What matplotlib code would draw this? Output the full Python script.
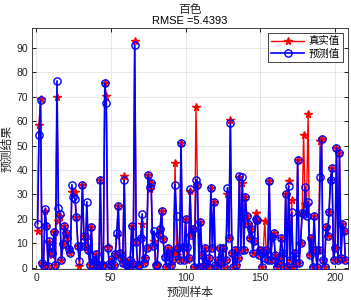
import matplotlib
matplotlib.use("Agg")
import matplotlib.pyplot as plt
import numpy as np

title_name = "百色"
rmse_text = "RMSE =5.4393"
legend_labels = ["真实值", "预测值"]
xlabel_text = "预测样本"
ylabel_text = "预测结果"
xticks = [0, 50, 100, 150, 200]
yticks = [0, 10, 20, 30, 40, 50, 60, 70, 80, 90]

true_vals = [
    15, 58.5, 69, 2, 0.5, 23, 17, 0.5, 10.5, 6.5,
    5, 14.5, 1, 70, 19, 21, 3, 9.5, 17, 14,
    12, 7.5, 6, 31, 31, 31, 20.6, 9, 0.5, 9,
    34, 13, 9, 13, 7, 1, 16.5, 1, 2.5, 5.5,
    1, 1, 36, 0.5, 1, 75.5, 70.5, 8.5, 1.5, 1,
    3.6, 1, 5.6, 13, 25.4, 6, 4, 2, 37.5, 1.5,
    1, 0.3, 3, 17, 1.5, 92.8, 11, 1, 1, 12,
    18, 2, 4, 8, 38, 32, 34.5, 9, 11, 1,
    1, 13.8, 16, 23.2, 11.5, 4.5, 0.3, 8, 6, 1,
    3, 6, 43, 5, 8, 3, 51, 8.5, 3, 20,
    3, 4, 31.4, 13.3, 16, 0.3, 66, 34, 0.3, 18.7,
    5, 0.5, 8, 2, 0.3, 4, 32.8, 8, 27, 1,
    0.3, 3, 8, 2, 8, 0.3, 3, 30, 12, 60.6,
    6, 0.3, 7, 1, 4, 37, 7, 34.6, 7, 29,
    21, 18, 12, 16, 6, 11, 22.2, 19.4, 5, 7,
    0.3, 6.5, 19, 7, 3, 35.4, 3, 12.5, 14, 5,
    0.3, 2, 4.5, 12, 6, 0.3, 30.2, 0.3, 35.4, 3,
    27.6, 0.3, 6, 2, 44, 2, 10, 22.5, 54.5, 26,
    26, 63, 5, 12, 0.3, 21, 7, 0.3, 7, 52,
    52.5, 3, 0.3, 16.5, 13, 22.7, 36, 40.8, 3, 8,
    49, 3, 47, 4, 18, 15, 3,
]

pred_vals = [
    18, 54.5, 68.5, 2, 0.5, 24, 17, 0.5, 11, 6.5,
    6, 14.5, 1, 76.5, 24.5, 22, 3, 9.5, 17, 14,
    12, 7.5, 6, 34, 29, 28, 20.6, 9, 2.7, 9,
    34, 13, 9, 27, 7, 1, 16.5, 1, 2.5, 5.5,
    1, 1, 36, 0.5, 1, 75.5, 67.5, 8, 1.5, 1,
    3.6, 1, 5.6, 14, 25.4, 6, 4, 2, 35.8, 1.5,
    1, 0.3, 3, 17, 1.5, 91.4, 10.5, 1, 1, 12,
    22, 2, 4, 8, 38, 33, 34.5, 9, 15, 1,
    1, 13.8, 16, 23.2, 11.5, 4.5, 0.3, 8, 6, 1,
    3, 6, 34, 21, 8, 3, 51, 8.5, 3, 20,
    8.5, 4, 32, 13.3, 16, 0.3, 36, 34, 0.3, 18.7,
    5, 0.5, 8, 2, 0.3, 4, 32.8, 8, 27, 1,
    0.3, 3, 8, 2, 8, 0.3, 3, 32.7, 12, 59.3,
    6, 0.3, 7, 1, 4, 37.4, 7, 37, 7, 29,
    21, 18, 12, 16, 6, 11, 20, 19.4, 5, 7,
    0.3, 6.5, 4, 7, 3, 35.4, 3, 12.5, 14, 5,
    0.3, 2, 4.5, 12, 6, 0.3, 30.2, 0.3, 33.3, 3,
    22.7, 0.3, 6, 2, 44, 2, 10, 22.5, 22, 33.2,
    21, 27, 5, 12, 0.3, 21, 7, 0.3, 7, 37,
    52.5, 3, 0.3, 16.5, 13, 22.7, 36, 40.8, 3, 8,
    49, 3, 47, 4, 18, 15, 3,
]

plt.rcParams['font.family'] = ['Liberation Sans', 'Noto Sans CJK SC', 'DejaVu Sans']
cjk = ['Noto Sans CJK SC', 'DejaVu Sans']

x = np.arange(1, len(true_vals) + 1)

fig = plt.figure(figsize=(3.51, 3.0), dpi=100)
ax = fig.add_axes([32/351, 31/300, 316/351, 241/300])

ax.plot(x, true_vals, '-', color='red', marker='*', markersize=5.5,
        linewidth=1.0, label=legend_labels[0], zorder=2)
ax.plot(x, pred_vals, '-', color='blue', marker='o', markersize=5.2,
        markerfacecolor='none', markeredgewidth=1.0, linewidth=1.2,
        label=legend_labels[1], zorder=3)

ax.set_xlim(-2.7, 208.7)
ax.set_ylim(-0.6, 98.2)
ax.set_xticks(xticks)
ax.set_yticks(yticks)
ax.tick_params(direction='in', labelsize=7.5, length=3, width=0.6,
               top=True, right=True, labeltop=False, labelright=False, pad=3,
               labelcolor='#262626')
ax.grid(True, color='#e3e3e3', linewidth=0.6)
ax.set_axisbelow(True)
for s in ax.spines.values():
    s.set_color('#262626')
    s.set_linewidth(0.6)

ax.set_xlabel(xlabel_text, fontsize=8.5, family=cjk, color='#262626', labelpad=2)
ax.set_ylabel(ylabel_text, fontsize=8.5, family=cjk, color='#262626', labelpad=2)

fig.text(190/351, 1 - 10/300, title_name, ha='center', va='center',
         fontsize=8.5, family=cjk, color='#262626')
fig.text(190/351, 1 - 21/300, rmse_text, ha='center', va='center',
         fontsize=8, color='#000000')

leg = ax.legend(loc='upper right', prop={'family': cjk, 'size': 7.5},
                fancybox=False, edgecolor='#262626', framealpha=1,
                borderpad=0.3, labelspacing=0.2, handlelength=3.2,
                handletextpad=0.4, borderaxespad=0.5)
leg.get_frame().set_linewidth(0.6)

fig.savefig('out.png', dpi=100)
